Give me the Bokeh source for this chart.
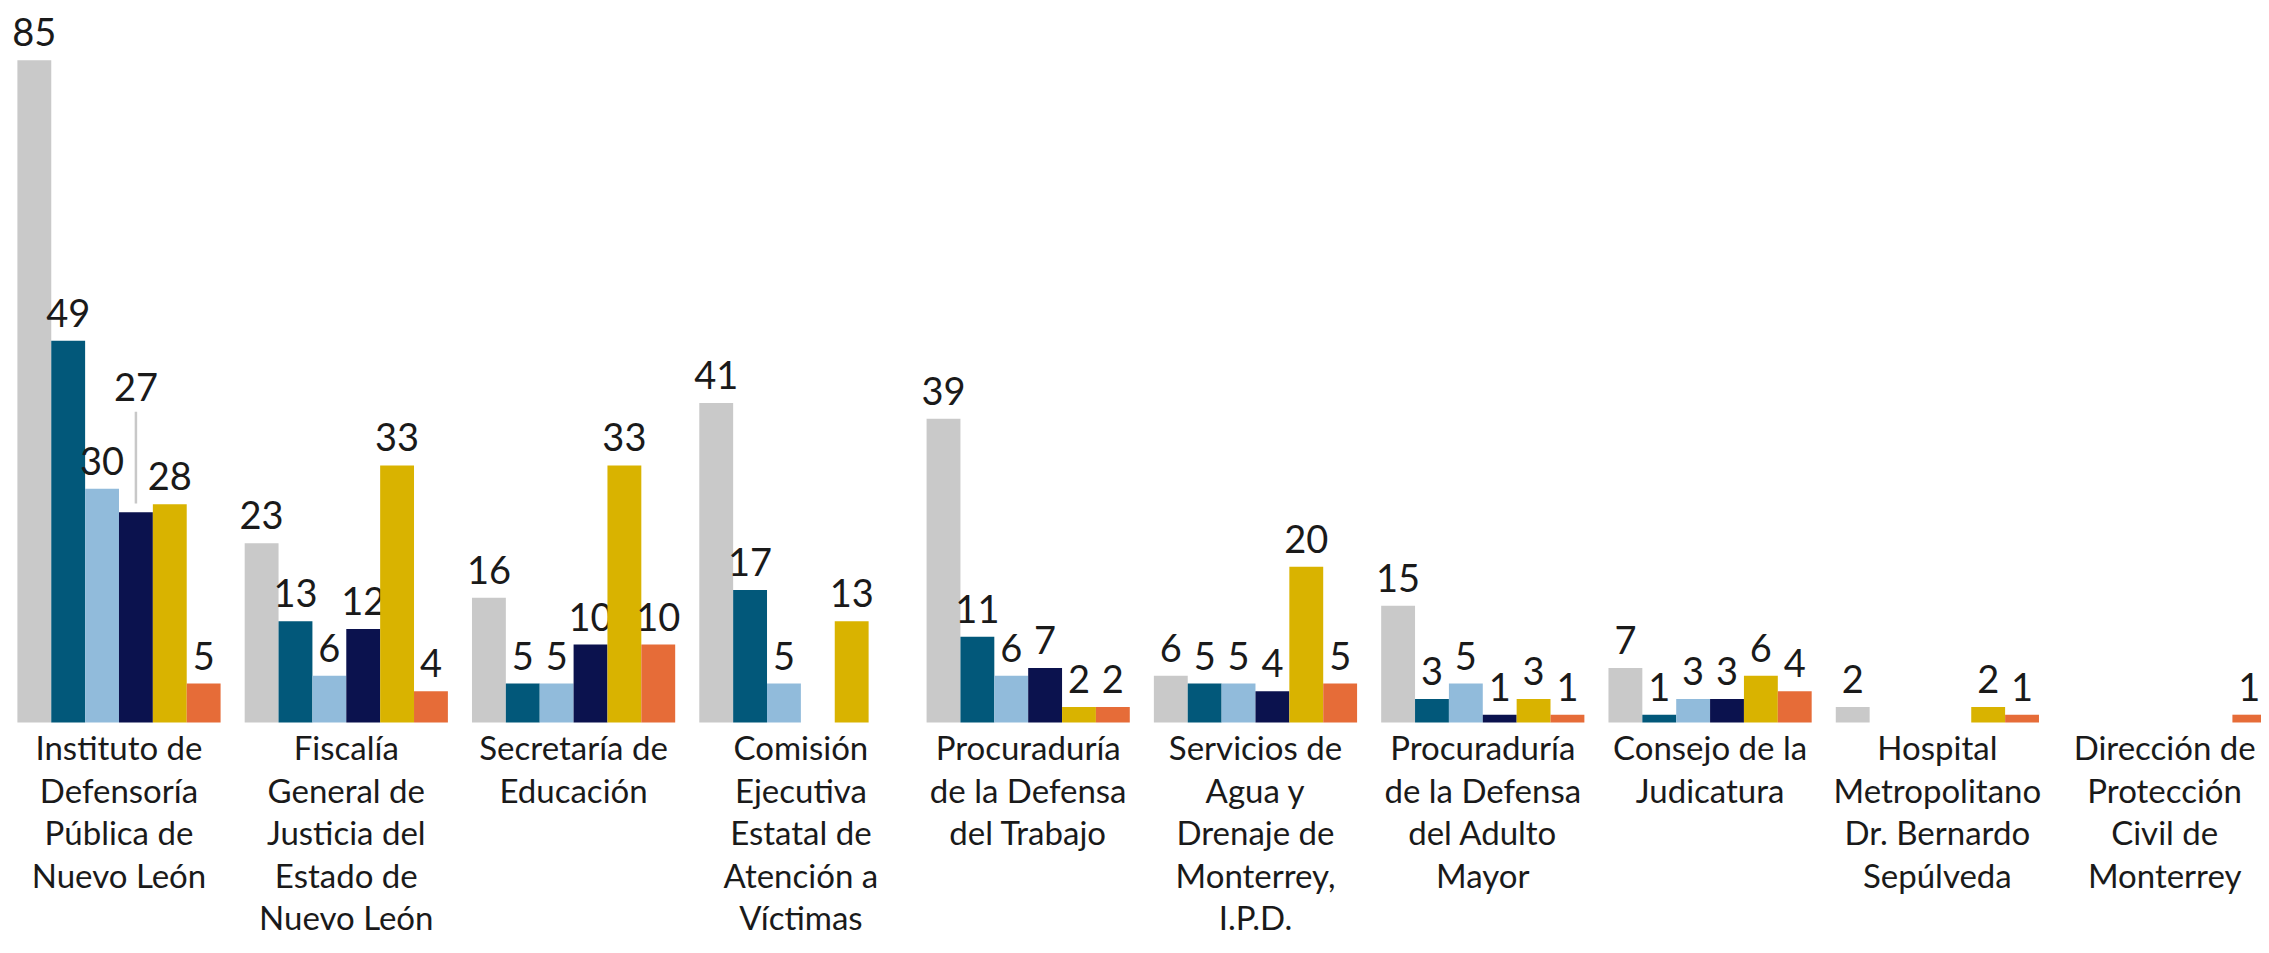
import numpy as np
from bokeh.plotting import figure
from bokeh.models import ColumnDataSource, Range1d
from bokeh.core.properties import value
from bokeh.embed import file_html
from bokeh.resources import INLINE

categories = [
    "Instituto de\nDefensoría\nPública de\nNuevo León",
    "Fiscalía\nGeneral de\nJusticia del\nEstado de\nNuevo León",
    "Secretaría de\nEducación",
    "Comisión\nEjecutiva\nEstatal de\nAtención a\nVíctimas",
    "Procuraduría\nde la Defensa\ndel Trabajo",
    "Servicios de\nAgua y\nDrenaje de\nMonterrey,\nI.P.D.",
    "Procuraduría\nde la Defensa\ndel Adulto\nMayor",
    "Consejo de la\nJudicatura",
    "Hospital\nMetropolitano\nDr. Bernardo\nSepúlveda",
    "Dirección de\nProtección\nCivil de\nMonterrey",
]

nan = np.nan
serie_gris = [85, 23, 16, 41, 39, 6, 15, 7, 2, nan]
serie_azul = [49, 13, 5, 17, 11, 5, 3, 1, nan, nan]
serie_celeste = [30, 6, 5, 5, 6, 5, 5, 3, nan, nan]
serie_marino = [27, 12, 10, nan, 7, 4, 1, 3, nan, nan]
serie_oro = [28, 33, 33, 13, 2, 20, 3, 6, 2, nan]
serie_naranja = [5, 4, 10, nan, 2, 5, 1, 4, 1, 1]

series = [serie_gris, serie_azul, serie_celeste, serie_marino, serie_oro, serie_naranja]
colors = ["#C9C9C9", "#02587A", "#91BBDB", "#0B124E", "#D9B300", "#E66C38"]

# label raised above its neighbours (series index, category index) -> extra units
label_lift = {(3, 0): 12.5}

FONT = "Lato"
TXT = "#1A1A1A"

bar_w = 0.149
offsets = [(i - 2.5) * bar_w for i in range(6)]

p = figure(width=2261, height=937, output_backend="svg", toolbar_location=None,
           x_range=Range1d(-0.5213, 9.426), y_range=Range1d(-27.60, 92.68),
           min_border=0, min_border_left=0, min_border_right=0,
           min_border_top=0, min_border_bottom=0)
p.outline_line_color = None
p.xgrid.visible = False
p.ygrid.visible = False
p.xaxis.visible = False
p.yaxis.visible = False
p.background_fill_color = "white"

xs_idx = np.arange(len(categories), dtype=float)

for si, (vals, col) in enumerate(zip(series, colors)):
    v = np.array(vals, dtype=float)
    mask = ~np.isnan(v)
    x = xs_idx[mask] + offsets[si]
    top = v[mask]
    lift = np.array([label_lift.get((si, int(c)), 0.0) for c in xs_idx[mask]])
    src = ColumnDataSource(dict(x=x, top=top, ly=top + lift,
                                txt=[str(int(t)) for t in top]))
    p.vbar(x="x", top="top", bottom=0, width=bar_w, source=src,
           fill_color=col, line_color=None)
    p.text(x="x", y="ly", text="txt", source=src, text_align="center",
           text_baseline="bottom", y_offset=-14,
           text_font=value(FONT), text_font_size="38px", text_color=TXT)

# leader lines for lifted labels
for (si, ci), lift in label_lift.items():
    v = series[si][ci]
    x = ci + offsets[si]
    p.segment(x0=[x], y0=[v + 1.1], x1=[x], y1=[v + lift + 0.4],
              line_color="#C8C8C8", line_width=2.5)

cat_src = ColumnDataSource(dict(x=xs_idx, y=np.zeros(len(categories)), txt=categories))
p.text(x="x", y="y", text="txt", source=cat_src, text_align="center",
       text_baseline="top", y_offset=5, text_line_height=1.06,
       text_font=value(FONT), text_font_size="33px", text_color=TXT)

open("out.html", "w").write(file_html(p, INLINE))
